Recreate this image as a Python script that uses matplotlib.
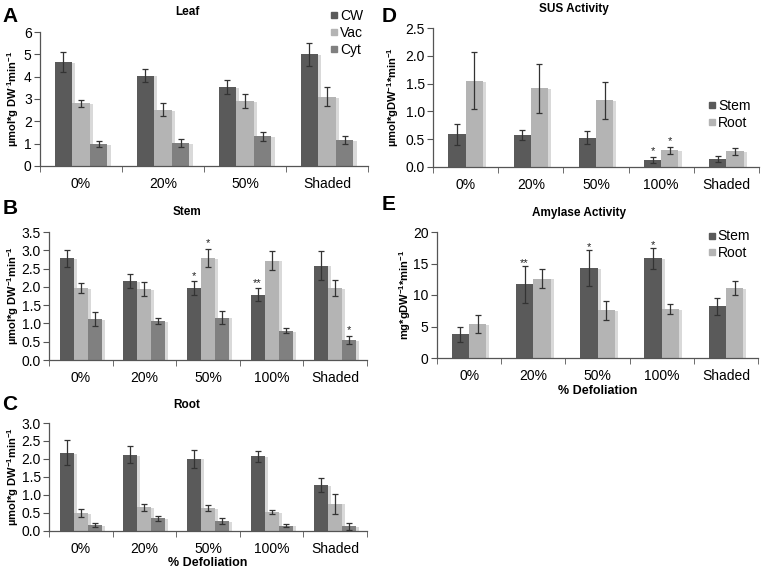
import numpy as np
import matplotlib
matplotlib.use("Agg")
import matplotlib.pyplot as plt
from matplotlib import patheffects as pe
from matplotlib.lines import Line2D

plt.rcParams['font.family'] = ['Liberation Sans', 'DejaVu Sans']
plt.rcParams['mathtext.fontset'] = 'custom'
plt.rcParams['mathtext.rm'] = 'Liberation Sans'
plt.rcParams['mathtext.bf'] = 'Liberation Sans:bold'

# ---- data ----
leaf_cats = ['0%', '20%', '50%', 'Shaded']
cats = ['0%', '20%', '50%', '100%', 'Shaded']

leaf_cw = [4.65, 4.05, 3.55, 5.0]
leaf_cw_err = [0.45, 0.3, 0.32, 0.5]
leaf_vac = [2.8, 2.52, 2.9, 3.1]
leaf_vac_err = [0.17, 0.28, 0.32, 0.42]
leaf_cyt = [0.98, 1.04, 1.33, 1.16]
leaf_cyt_err = [0.12, 0.17, 0.2, 0.17]

stem_cw = [2.78, 2.15, 1.97, 1.78, 2.58]
stem_cw_err = [0.23, 0.19, 0.18, 0.18, 0.4]
stem_vac = [1.97, 1.94, 2.78, 2.72, 1.97]
stem_vac_err = [0.13, 0.2, 0.25, 0.27, 0.23]
stem_cyt = [1.12, 1.07, 1.16, 0.8, 0.55]
stem_cyt_err = [0.18, 0.08, 0.18, 0.07, 0.1]
stem_sig_cw = ['', '', '*', '**', '']
stem_sig_vac = ['', '', '*', '', '']
stem_sig_cyt = ['', '', '', '', '*']

root_cw = [2.17, 2.12, 2.01, 2.08, 1.27]
root_cw_err = [0.35, 0.23, 0.25, 0.15, 0.2]
root_vac = [0.5, 0.66, 0.64, 0.52, 0.76]
root_vac_err = [0.12, 0.1, 0.09, 0.05, 0.28]
root_cyt = [0.17, 0.35, 0.28, 0.15, 0.13]
root_cyt_err = [0.06, 0.07, 0.09, 0.05, 0.09]

sus_stem = [0.59, 0.58, 0.53, 0.13, 0.14]
sus_stem_err = [0.19, 0.09, 0.12, 0.05, 0.05]
sus_root = [1.55, 1.42, 1.2, 0.3, 0.28]
sus_root_err = [0.51, 0.44, 0.33, 0.06, 0.06]
sus_sig_stem = ['', '', '', '*', '']
sus_sig_root = ['', '', '', '*', '']

amy_stem = [3.8, 11.7, 14.3, 15.8, 8.2]
amy_stem_err = [1.2, 2.9, 2.9, 1.7, 1.4]
amy_root = [5.4, 12.6, 7.6, 7.8, 11.1]
amy_root_err = [1.4, 1.5, 1.5, 0.8, 1.1]
amy_sig_stem = ['', '**', '*', '*', '']

C_DARK = '#5a5a5a'
C_LIGHT = '#b4b4b4'
C_MID = '#808080'
ERR_C = '#333333'

W, H = 764, 568
fig = plt.figure(figsize=(W / 100, H / 100), dpi=100)


def ax_px(l, r, t, b):
    return fig.add_axes([l / W, 1 - b / H, (r - l) / W, (b - t) / H])


shadow = [pe.SimplePatchShadow(offset=(2.2, -0.6), shadow_rgbFace='#d9d9d9', alpha=1.0), pe.Normal()]


def draw(ax, labels, series, errs, colors, width, ylim, yticks, fmt, sigs=None, sig_pad=0.0):
    n = len(series)
    x = np.arange(len(labels))
    offs = (np.arange(n) - (n - 1) / 2) * width
    for i in range(n):
        bars = ax.bar(x + offs[i], series[i], width, color=colors[i], zorder=2)
        for b in bars:
            b.set_path_effects(shadow)
        ax.errorbar(x + offs[i], series[i], yerr=errs[i], fmt='none', ecolor=ERR_C,
                    elinewidth=0.9, capsize=2.3, capthick=0.9, zorder=3)
        if sigs is not None and sigs[i] is not None:
            for j, s in enumerate(sigs[i]):
                if s:
                    ax.text(x[j] + offs[i], series[i][j] + errs[i][j] + sig_pad, s,
                            ha='center', va='bottom', fontsize=8, color='#222222')
    ax.set_xlim(-0.5, len(labels) - 0.5)
    ax.set_ylim(*ylim)
    ax.set_yticks(yticks)
    ax.set_yticklabels([fmt.format(v) for v in yticks], fontsize=10)
    ax.set_xticks(x)
    ax.set_xticklabels(labels, fontsize=10)
    ax.tick_params(axis='x', length=0, pad=8)
    ax.set_xticks(np.arange(len(labels) + 1) - 0.5, minor=True)
    ax.tick_params(axis='x', which='minor', length=4, direction='out', color='#555555')
    ax.tick_params(axis='y', length=4, direction='out', color='#555555', pad=2)
    for s in ['top', 'right']:
        ax.spines[s].set_visible(False)
    for s in ['left', 'bottom']:
        ax.spines[s].set_color('#555555')
        ax.spines[s].set_linewidth(0.9)


def legend(ax, names, colors, loc, anchor):
    handles = [Line2D([], [], marker='s', color=c, linestyle='none', markersize=5) for c in colors]
    ax.legend(handles, names, loc=loc, bbox_to_anchor=anchor, frameon=False, fontsize=10,
              handletextpad=0.0, labelspacing=0.2, handlelength=0.8, borderaxespad=0,
              borderpad=0)


ylab_A = r'µmol*g DW$^{\mathbf{\cdot1}}$min$^{\mathbf{-1}}$'
ylab_BC = r'µmol*g DW$^{\mathbf{-1}}$min$^{\mathbf{-1}}$'
ylab_D = r'µmol*gDW$^{\mathbf{-1}}$*min$^{\mathbf{-1}}$'
ylab_E = r'mg*gDW$^{\mathbf{-1}}$*min$^{\mathbf{-1}}$'

YL_FS = 8

# Panel A
axA = ax_px(40, 368, 32, 166)
draw(axA, leaf_cats, [leaf_cw, leaf_vac, leaf_cyt], [leaf_cw_err, leaf_vac_err, leaf_cyt_err],
     [C_DARK, C_LIGHT, C_MID], 0.215, (0, 6), [0, 1, 2, 3, 4, 5, 6], '{:.0f}')
axA.set_ylabel(ylab_A, fontsize=YL_FS, fontweight='bold')
axA.yaxis.set_label_coords(-19 / 328, 0.5)
legend(axA, ['CW', 'Vac', 'Cyt'], [C_DARK, C_LIGHT, C_MID], 'upper left', (0.88, 1.17))

# Panel B
axB = ax_px(49, 367, 232, 360)
draw(axB, cats, [stem_cw, stem_vac, stem_cyt], [stem_cw_err, stem_vac_err, stem_cyt_err],
     [C_DARK, C_LIGHT, C_MID], 0.22, (0, 3.5), [0, 0.5, 1, 1.5, 2, 2.5, 3, 3.5], '{:.1f}',
     sigs=[stem_sig_cw, stem_sig_vac, stem_sig_cyt], sig_pad=0.02)
axB.set_ylabel(ylab_BC, fontsize=YL_FS, fontweight='bold')
axB.yaxis.set_label_coords(-28 / 318, 0.5)

# Panel C
axC = ax_px(49, 367, 423, 531)
draw(axC, cats, [root_cw, root_vac, root_cyt], [root_cw_err, root_vac_err, root_cyt_err],
     [C_DARK, C_LIGHT, C_MID], 0.22, (0, 3.0), [0, 0.5, 1, 1.5, 2, 2.5, 3], '{:.1f}')
axC.set_ylabel(ylab_BC, fontsize=YL_FS, fontweight='bold')
axC.yaxis.set_label_coords(-28 / 318, 0.5)
axC.set_xlabel('% Defoliation', fontsize=9, fontweight='bold', labelpad=1)

# Panel D
axD = ax_px(433, 759, 28, 167)
draw(axD, cats, [sus_stem, sus_root], [sus_stem_err, sus_root_err],
     [C_DARK, C_LIGHT], 0.265, (0, 2.5), [0, 0.5, 1, 1.5, 2, 2.5], '{:.1f}',
     sigs=[sus_sig_stem, sus_sig_root], sig_pad=0.02)
axD.set_ylabel(ylab_D, fontsize=YL_FS, fontweight='bold')
axD.yaxis.set_label_coords(-32 / 326, 0.5)
legend(axD, ['Stem', 'Root'], [C_DARK, C_LIGHT], 'upper left', (0.84, 0.49))

# Panel E
axE = ax_px(437, 758, 232, 358)
draw(axE, cats, [amy_stem, amy_root], [amy_stem_err, amy_root_err],
     [C_DARK, C_LIGHT], 0.27, (0, 20), [0, 5, 10, 15, 20], '{:.0f}',
     sigs=[amy_sig_stem, None], sig_pad=-0.4)
axE.set_ylabel(ylab_E, fontsize=YL_FS, fontweight='bold')
axE.yaxis.set_label_coords(-24 / 321, 0.5)
axE.set_xlabel('% Defoliation', fontsize=9, fontweight='bold', labelpad=1)
legend(axE, ['Stem', 'Root'], [C_DARK, C_LIGHT], 'upper left', (0.84, 1.02))

# Titles
fig.text(187 / W, 1 - 12 / H, 'Leaf', ha='center', va='center', fontsize=8.5, fontweight='bold')
fig.text(187 / W, 1 - 212 / H, 'Stem', ha='center', va='center', fontsize=8.5, fontweight='bold')
fig.text(187 / W, 1 - 405 / H, 'Root', ha='center', va='center', fontsize=8.5, fontweight='bold')
fig.text(574 / W, 1 - 9 / H, 'SUS Activity', ha='center', va='center', fontsize=8.5, fontweight='bold')
fig.text(579 / W, 1 - 213 / H, 'Amylase Activity', ha='center', va='center', fontsize=8.5, fontweight='bold')

# Panel letters
for lt, xp, yp in [('A', 10, 16), ('B', 10, 209), ('C', 10, 404), ('D', 389, 16), ('E', 389, 204)]:
    fig.text(xp / W, 1 - yp / H, lt, ha='center', va='center', fontsize=15, fontweight='bold')

fig.savefig('out.png', dpi=100)
